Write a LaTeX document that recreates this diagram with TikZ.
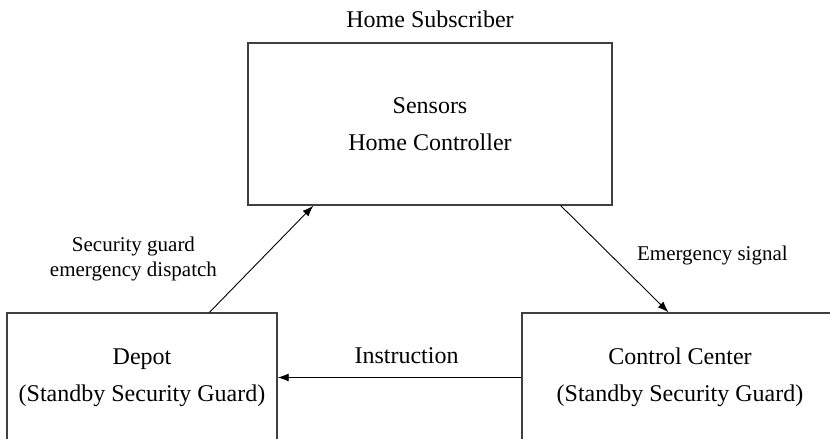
\documentclass[tikz,border=0pt]{standalone}
\usepackage{fontspec}
\setmainfont{Liberation Serif}
\usepackage{tikz}
\usetikzlibrary{positioning,arrows.meta}

\begin{document}
\begin{tikzpicture}[
x=1pt, y=-1pt,
box/.style={rectangle, draw=black!75, fill=white, line width=1.4pt, align=center, font=\fontsize{24}{37}\selectfont},
empty/.style={inner sep=0pt, font=\fontsize{24}{29}\selectfont},
lbl/.style={inner sep=0pt, align=center, font=\fontsize{21}{25}\selectfont},
arr/.style={-{Latex[length=11pt,width=8pt]}, line width=0.9pt}
]
\useasboundingbox (0,0) rectangle (830,439);
\clip (0,0) rectangle (830,439);
\node[box, minimum width=364pt, minimum height=162pt](home) at (430,124){Sensors\\Home Controller};
\node[empty](sub)[above of = home, node distance=105pt]{Home Subscriber};
\node[box, minimum width=270pt, minimum height=129pt](dep) at (142,377.5){Depot\\(Standby Security Guard)};
\node[box, minimum width=316pt, minimum height=129pt](cc)[right of = dep, node distance=538pt]{Control Center\\(Standby Security Guard)};

\draw[arr] (dep.44) -- node[lbl, anchor=east, xshift=-44pt]{Security guard\\emergency dispatch} (home.215);
\draw[arr] (home.328) -- node[lbl, anchor=west, xshift=22pt, yshift=4pt]{Emergency signal} (cc.100);
\draw[arr] (cc.west) -- node[empty, anchor=south, xshift=7pt, yshift=13pt]{Instruction} (dep.east);

\end{tikzpicture}
\end{document}
